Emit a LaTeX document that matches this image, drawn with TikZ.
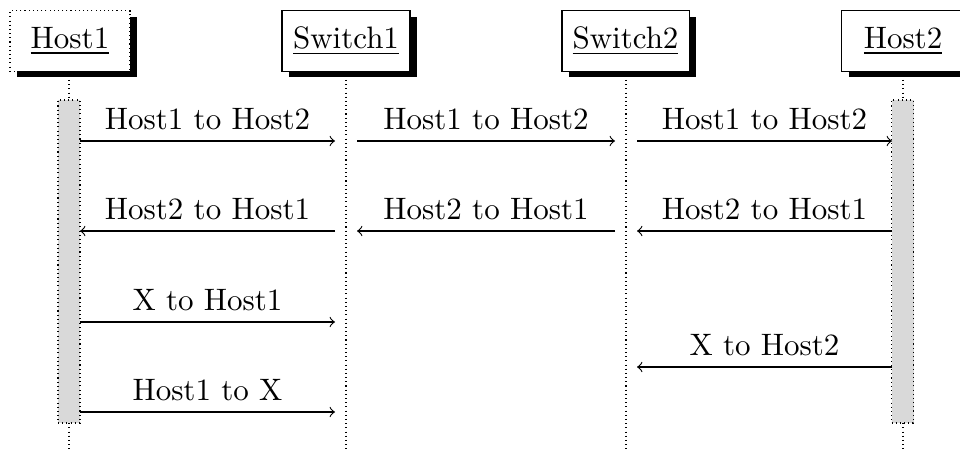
\documentclass[tikz,border=0pt]{standalone}
\usetikzlibrary{shadows}
\begin{document}
\begin{tikzpicture}[x=0.3226pt,y=-0.3226pt,
  inst/.style={draw, fill=white, minimum height=19.4pt, inner sep=0pt, line width=0.35pt,
    drop shadow={shadow xshift=2.2pt, shadow yshift=-2pt, fill=black, opacity=1}},
  life/.style={densely dotted, line width=0.35pt},
  act/.style={draw, densely dotted, line width=0.35pt, fill=gray!30, minimum width=7.1pt, minimum height=104.2pt, inner sep=0pt},
  msg/.style={->, line width=0.35pt},
  lbl/.style={above, inner sep=3.3pt}]
\useasboundingbox (0,0) rectangle (960,451);
% lifeline ends
\coordinate (e1) at (69,451);
\coordinate (e2) at (346,451);
\coordinate (e3) at (626,451);
\coordinate (e4) at (903,451);
% instance boxes
\node[inst, densely dotted, minimum width=38.7pt] (h1) at (70,41) {\underline{Host1}};
\node[inst, minimum width=41.3pt] (s1) at (346,41) {\underline{Switch1}};
\node[inst, minimum width=41.0pt] (s2) at (625.5,41) {\underline{Switch2}};
\node[inst, minimum width=39.4pt] (h2) at (903,41) {\underline{Host2}};
% lifelines
\draw[life] (h1.south -| e1) -- (e1);
\draw[life] (s1.south -| e2) -- (e2);
\draw[life] (s2.south -| e3) -- (e3);
\draw[life] (h2.south -| e4) -- (e4);
% activations
\node[act] (a1) at (69,261.5) {};
\node[act] (a2) at (902.5,261.5) {};
% message end points
\coordinate (p1a) at (80,141);  \coordinate (p1b) at (335,141);
\coordinate (p1c) at (357,141); \coordinate (p1d) at (615,141);
\coordinate (p1e) at (637,141); \coordinate (p1f) at (892,141);
\coordinate (p2a) at (80,231);  \coordinate (p2b) at (335,231);
\coordinate (p2c) at (357,231); \coordinate (p2d) at (615,231);
\coordinate (p2e) at (637,231); \coordinate (p2f) at (892,231);
\coordinate (p3a) at (80,322);  \coordinate (p3b) at (335,322);
\coordinate (p4e) at (637,367); \coordinate (p4f) at (892,367);
\coordinate (p5a) at (80,412);  \coordinate (p5b) at (335,412);
% messages
\draw[msg] (p1a) -- node[lbl] {Host1 to Host2} (p1b);
\draw[msg] (p1c) -- node[lbl] {Host1 to Host2} (p1d);
\draw[msg] (p1e) -- node[lbl] {Host1 to Host2} (p1f);
\draw[msg] (p2b) -- node[lbl] {Host2 to Host1} (p2a);
\draw[msg] (p2d) -- node[lbl] {Host2 to Host1} (p2c);
\draw[msg] (p2f) -- node[lbl] {Host2 to Host1} (p2e);
\draw[msg] (p3a) -- node[lbl] {X to Host1} (p3b);
\draw[msg] (p4f) -- node[lbl] {X to Host2} (p4e);
\draw[msg] (p5a) -- node[lbl] {Host1 to X} (p5b);
\end{tikzpicture}
\end{document}
